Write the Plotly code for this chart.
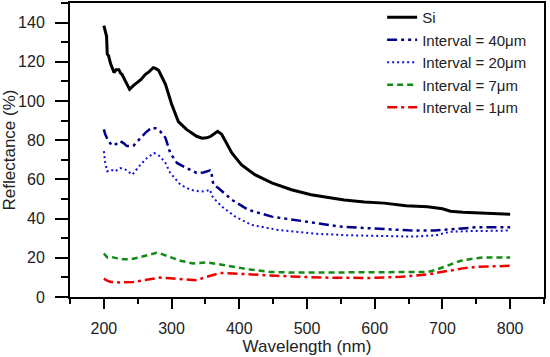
import plotly.graph_objects as go

# ---- data ----
si_wl = [200, 202, 204, 205, 207, 210, 213, 215, 218, 222, 225, 227, 232, 238, 244, 249, 255, 261, 267, 273, 277, 281, 286, 291, 300, 310, 322, 337, 345, 352, 358, 364, 368, 374, 380, 389, 403, 423, 448, 477, 506, 530, 555, 585, 614, 646, 678, 700, 712, 730, 761, 780, 800]
si_val = [138.5, 136, 133, 124, 123, 119, 116, 114.5, 116, 116, 114, 113.5, 110, 106, 108, 109.5, 111, 113.5, 115, 117, 116.5, 115.5, 112, 108.5, 98.5, 89.5, 85.5, 82, 81, 81.2, 82, 83.8, 84.5, 83, 79, 73.5, 67.5, 62.4, 58.2, 54.7, 52.2, 51, 49.5, 48.5, 47.9, 46.5, 46, 45, 43.8, 43.2, 42.8, 42.5, 42.2]

i40_wl = [200, 202, 206, 212, 218, 224, 229, 234, 244, 254, 262, 271, 277, 283, 291, 298, 308, 322, 337, 347, 357, 359, 360, 362, 369, 389, 413, 448, 482, 516, 548, 580, 614, 650, 688, 712, 730, 751, 775, 800]
i40_val = [85.5, 83, 80, 77.3, 78, 79.5, 78.5, 77, 77.3, 81.2, 84, 86.4, 86, 84.6, 81.2, 73.5, 68.4, 65.8, 63.3, 63.5, 64.6, 64, 60, 57.3, 55.6, 49.6, 44.5, 41, 39.3, 37.3, 36, 35.3, 34.6, 34, 33.9, 34.6, 35.2, 35.6, 35.6, 35.6]

i20_wl = [200, 202, 205, 210, 217, 224, 232, 242, 254, 264, 274, 283, 291, 298, 313, 328, 342, 350, 357, 359, 362, 367, 374, 394, 418, 457, 480, 516, 560, 614, 658, 690, 712, 740, 770, 800]
i20_val = [74.4, 68.4, 64.1, 65, 64.1, 65.8, 65, 62.4, 67.5, 71, 73.5, 71.8, 68.4, 63.3, 57.3, 54.7, 53.8, 54, 54.7, 52, 50.5, 48.7, 46.2, 41, 36.8, 34.2, 33.3, 32.2, 31.5, 31.1, 30.8, 31.5, 33.3, 33.6, 33.8, 33.9]

i7_wl = [200, 203, 205, 210, 220, 230, 239, 250, 259, 270, 278, 285, 293, 303, 313, 332, 352, 372, 391, 416, 445, 479, 524, 580, 639, 678, 690, 702, 715, 727, 745, 761, 780, 800]
i7_val = [22.2, 21, 20.2, 20.5, 19.7, 19.3, 19.2, 20, 20.9, 22, 22.6, 22, 20.9, 19.5, 18.5, 17.1, 17.6, 16.6, 15.4, 14, 12.8, 12.5, 12.5, 12.5, 12.5, 12.8, 13.8, 15.4, 17, 18.5, 19.5, 20.2, 20.2, 20.2]

i1_wl = [200, 205, 210, 224, 244, 264, 283, 303, 322, 337, 352, 362, 372, 391, 421, 455, 489, 524, 590, 639, 678, 695, 712, 730, 751, 775, 800]
i1_val = [9.4, 8.3, 7.7, 7.4, 7.7, 8.9, 9.9, 9.4, 8.9, 8.6, 10.3, 11.5, 12.3, 12, 11.6, 10.8, 10.3, 9.9, 9.7, 10.3, 11.5, 12.5, 13.7, 14.6, 15.4, 15.7, 15.9]

names = ["Si", "Interval = 40μm", "Interval = 20μm", "Interval = 7μm", "Interval = 1μm"]
x_ticks = [200, 300, 400, 500, 600, 700, 800]
y_ticks = [0, 20, 40, 60, 80, 100, 120, 140]

FONT = "Liberation Sans, Arial, sans-serif"

fig = go.Figure()
fig.add_trace(go.Scatter(x=si_wl, y=si_val, mode="lines", name=names[0],
                         line=dict(color="black", width=3)))
fig.add_trace(go.Scatter(x=i40_wl, y=i40_val, mode="lines", name=names[1],
                         line=dict(color="#00008B", width=2.5, dash="10px,4px,3px,4px,3px,4px")))
fig.add_trace(go.Scatter(x=i20_wl, y=i20_val, mode="lines", name=names[2],
                         line=dict(color="#1010E0", width=2, dash="2px,3px")))
fig.add_trace(go.Scatter(x=i7_wl, y=i7_val, mode="lines", name=names[3],
                         line=dict(color="#138A13", width=2.5, dash="6px,4px")))
fig.add_trace(go.Scatter(x=i1_wl, y=i1_val, mode="lines", name=names[4],
                         line=dict(color="#EE0000", width=2.5, dash="10px,4px,3px,4px")))

fig.update_layout(
    width=550, height=357,
    margin=dict(l=70, r=6, t=3, b=60, autoexpand=False),
    paper_bgcolor="white", plot_bgcolor="white",
    font=dict(family=FONT, size=16, color="#222"),
    showlegend=True,
    legend=dict(x=0.975, xanchor="right", y=1.007, yanchor="top",
                bgcolor="rgba(0,0,0,0)", borderwidth=0,
                font=dict(size=15, color="#222"),
                itemwidth=30, tracegroupgap=0),
)
fig.update_xaxes(
    range=[150, 850], tickmode="array", tickvals=x_ticks,
    showline=True, linecolor="black", linewidth=2, mirror=True,
    ticks="outside", ticklen=10, tickwidth=2, tickcolor="black",
    ticklabelstandoff=6,
    minor=dict(ticks="outside", ticklen=5, tickwidth=2, tickcolor="black",
               tickvals=[150, 250, 350, 450, 550, 650, 750, 850]),
    showgrid=False, zeroline=False,
    title=dict(text="Wavelength (nm)", font=dict(size=17), standoff=3),
)
fig.update_yaxes(
    range=[0, 150], tickmode="array", tickvals=y_ticks,
    showline=True, linecolor="black", linewidth=2, mirror=True,
    ticks="outside", ticklen=13, tickwidth=2, tickcolor="black",
    ticklabelstandoff=7,
    minor=dict(ticks="outside", ticklen=7, tickwidth=2, tickcolor="black",
               tickvals=[10, 30, 50, 70, 90, 110, 130, 150]),
    showgrid=False, zeroline=False,
    title=dict(text="Reflectance (%)", font=dict(size=17), standoff=4),
)

fig.write_html("out.html", config={"displayModeBar": False},
               post_script="document.body.style.margin='0';document.body.style.padding='0';")
